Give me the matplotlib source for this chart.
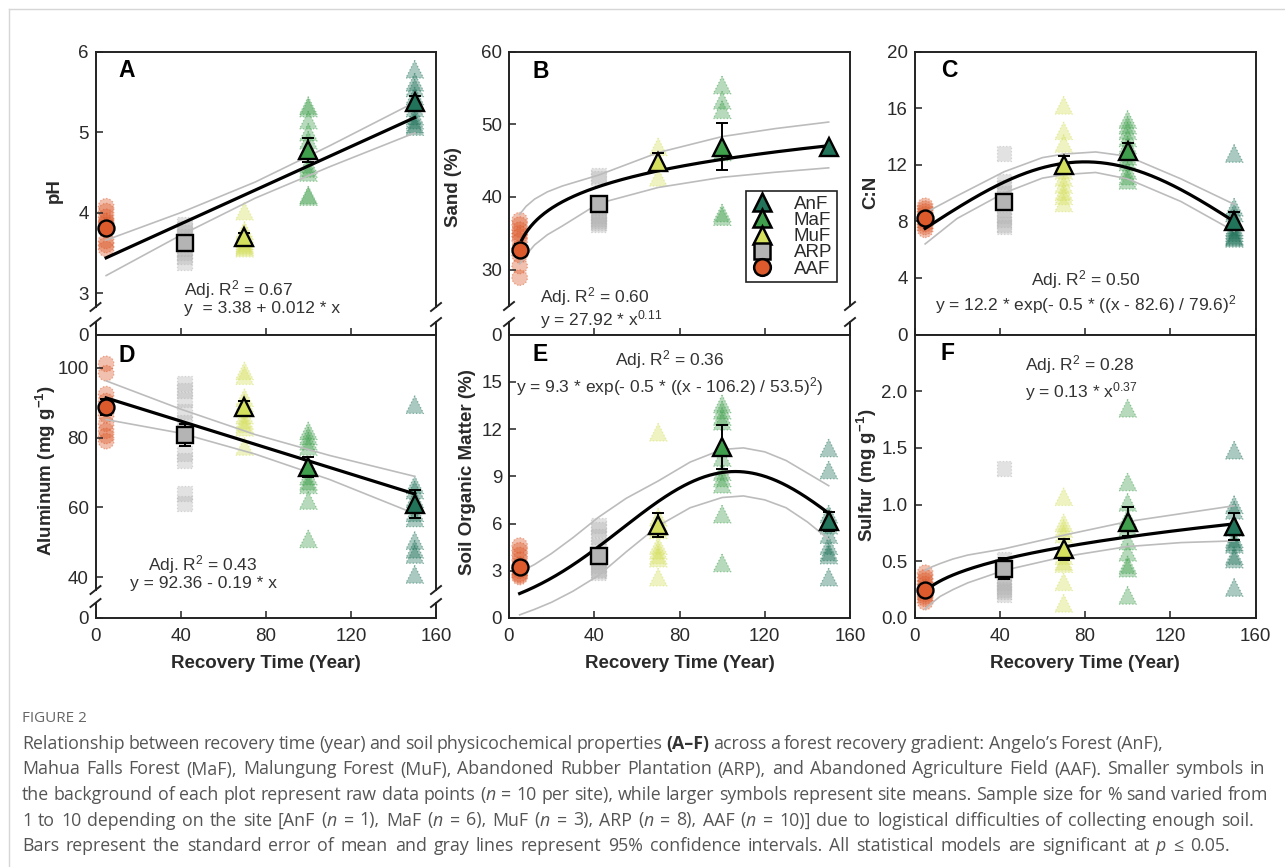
import numpy as np
import matplotlib
matplotlib.use('Agg')
import matplotlib.pyplot as plt
from matplotlib.lines import Line2D
from matplotlib.colors import to_rgba

# ---------------- data ----------------
sites = ['AAF', 'ARP', 'MuF', 'MaF', 'AnF']
site_years = [5, 42, 70, 100, 150]
site_colors = ['#dc5a2c', '#b4b4b4', '#d5e05e', '#3f9f4c', '#21735a']
site_markers = ['o', 's', '^', '^', '^']
legend_order = ['AnF', 'MaF', 'MuF', 'ARP', 'AAF']
x_ticks = [0, 40, 80, 120, 160]

# A: pH
ph_raw = {'AAF': [4.08, 4.02, 3.95, 3.90, 3.88, 3.85, 3.80, 3.65, 3.60, 3.55],
          'ARP': [3.85, 3.80, 3.75, 3.70, 3.65, 3.60, 3.55, 3.50, 3.45, 3.38],
          'MuF': [4.02, 3.78, 3.74, 3.70, 3.68, 3.65, 3.62, 3.60, 3.58, 3.56],
          'MaF': [5.33, 5.30, 5.15, 5.00, 4.90, 4.60, 4.55, 4.50, 4.22, 4.20],
          'AnF': [5.78, 5.62, 5.55, 5.45, 5.38, 5.30, 5.20, 5.15, 5.10, 5.07]}
ph_mean = [3.81, 3.63, 3.70, 4.78, 5.37]
ph_se = [0.06, 0.06, 0.05, 0.15, 0.08]
ph_params = [3.38, 0.012]
ph_ci_x = [5, 40, 75, 110, 150]
ph_ci_hi = [3.66, 4.00, 4.38, 4.83, 5.37]
ph_ci_lo = [3.22, 3.72, 4.18, 4.57, 4.99]

# B: Sand
sand_raw = {'AAF': [36.8, 36.2, 35.5, 35.0, 34.6, 34.0, 33.0, 32.0, 30.5, 28.9],
            'ARP': [43.0, 42.6, 38.5, 37.5, 37.0, 36.8, 36.5, 36.2],
            'MuF': [46.9, 44.8, 42.7],
            'MaF': [55.4, 53.3, 52.0, 46.2, 37.8, 37.3],
            'AnF': [46.9]}
sand_mean = [32.7, 39.0, 44.8, 46.9, 46.9]
sand_se = [0.8, 1.0, 1.2, 3.2, 0.0]
sand_params = [28.5, 0.10]
sand_ci_x = [5, 8, 12, 18, 25, 42, 70, 100, 125, 150]
sand_ci_hi = [37.6, 38.7, 39.7, 40.7, 41.5, 43.0, 46.1, 48.3, 49.4, 50.3]
sand_ci_lo = [30.8, 32.0, 33.4, 34.8, 36.0, 39.1, 41.3, 42.7, 43.4, 44.0]

# C: C:N
cn_raw = {'AAF': [9.1, 8.9, 8.7, 8.5, 8.3, 8.2, 8.0, 7.8, 7.6, 7.4],
          'ARP': [12.8, 10.8, 10.4, 10.0, 9.6, 8.8, 8.4, 8.1, 7.8, 7.6],
          'MuF': [16.2, 14.4, 13.5, 12.2, 11.6, 11.1, 10.6, 10.1, 9.8, 9.3],
          'MaF': [15.2, 14.8, 14.4, 13.9, 13.4, 12.6, 12.2, 11.6, 11.2, 10.9],
          'AnF': [12.8, 9.0, 8.6, 8.0, 7.6, 7.4, 7.2, 7.0, 6.9, 6.8]}
cn_mean = [8.2, 9.35, 12.0, 13.0, 8.05]
cn_se = [0.2, 0.5, 0.6, 0.5, 0.6]
cn_params = [12.2, 80.0, 76.0]
cn_ci_x = [5, 20, 42, 60, 70, 85, 100, 125, 150]
cn_ci_hi = [8.6, 9.8, 11.5, 12.5, 12.75, 12.9, 12.6, 11.0, 9.2]
cn_ci_lo = [6.4, 8.2, 10.0, 11.05, 11.3, 11.45, 11.0, 9.4, 7.3]

# D: Aluminum
al_raw = {'AAF': [101.2, 98.5, 92.5, 90.5, 88.5, 86.5, 84.0, 82.0, 80.5, 79.0],
          'ARP': [95.5, 93.5, 91.0, 87.5, 84.5, 82.0, 75.5, 73.5, 64.0, 61.0],
          'MuF': [99.2, 97.8, 91.5, 90.0, 88.5, 86.5, 85.0, 84.0, 83.0, 77.5],
          'MaF': [82.0, 80.5, 79.0, 77.5, 72.0, 69.0, 67.5, 66.5, 62.0, 51.0],
          'AnF': [89.5, 66.5, 65.0, 62.5, 58.5, 57.0, 50.5, 48.0, 46.5, 40.8]}
al_mean = [88.8, 80.8, 88.8, 71.6, 61.0]
al_se = [2.2, 3.2, 1.8, 2.8, 4.0]
al_params = [92.36, -0.19]
al_ci_x = [5, 40, 75, 110, 150]
al_ci_hi = [96.3, 88.2, 80.9, 74.9, 68.9]
al_ci_lo = [85.2, 81.3, 75.3, 68.0, 58.2]

# E: Soil organic matter
som_raw = {'AAF': [4.6, 4.3, 4.0, 3.7, 3.4, 3.2, 3.0, 2.8, 2.7, 2.6],
           'ARP': [5.9, 5.6, 5.2, 4.6, 4.0, 3.6, 3.3, 3.1, 3.0, 2.9],
           'MuF': [11.8, 6.4, 6.1, 5.8, 5.6, 4.6, 4.3, 4.0, 3.8, 2.6],
           'MaF': [13.6, 13.2, 12.8, 12.5, 10.2, 9.3, 8.9, 8.5, 6.6, 3.5],
           'AnF': [10.8, 9.4, 6.6, 6.2, 5.9, 5.3, 4.6, 4.2, 4.0, 2.6]}
som_mean = [3.25, 3.95, 5.9, 10.85, 6.15]
som_se = [0.2, 0.35, 0.75, 1.4, 0.6]
som_params = [9.3, 106.2, 53.5]
som_ci_x = [5, 12, 20, 30, 42, 55, 70, 85, 100, 110, 120, 130, 140, 150]
som_ci_hi = [2.9, 3.4, 4.1, 5.1, 6.4, 7.6, 8.7, 9.9, 10.7, 10.8, 10.55, 10.0, 9.2, 8.4]
som_ci_lo = [0.2, 0.55, 1.0, 1.7, 2.7, 4.2, 5.85, 7.0, 7.65, 7.75, 7.5, 7.0, 6.1, 5.0]

# F: Sulfur
s_raw = {'AAF': [0.40, 0.36, 0.33, 0.30, 0.27, 0.24, 0.21, 0.19, 0.17, 0.14],
         'ARP': [1.32, 0.52, 0.47, 0.40, 0.35, 0.31, 0.28, 0.25, 0.23, 0.21],
         'MuF': [1.07, 0.84, 0.79, 0.74, 0.62, 0.55, 0.50, 0.48, 0.32, 0.13],
         'MaF': [1.85, 1.20, 1.02, 0.88, 0.80, 0.68, 0.58, 0.47, 0.44, 0.20],
         'AnF': [1.48, 1.00, 0.95, 0.80, 0.70, 0.67, 0.65, 0.55, 0.52, 0.27]}
s_mean = [0.245, 0.435, 0.605, 0.85, 0.81]
s_se = [0.03, 0.09, 0.09, 0.125, 0.12]
s_params = [0.13, 0.37]
s_ci_x = [5, 8, 12, 18, 25, 42, 70, 100, 125, 150]
s_ci_hi = [0.42, 0.45, 0.48, 0.52, 0.555, 0.61, 0.73, 0.85, 0.92, 0.99]
s_ci_lo = [0.08, 0.13, 0.19, 0.25, 0.31, 0.42, 0.54, 0.63, 0.665, 0.68]


def linear(x, a, b):
    return a + b * x


def power(x, a, b):
    return a * x ** b


def gauss(x, a, c, s):
    return a * np.exp(-0.5 * ((x - c) / s) ** 2)


# ---------------- figure ----------------
W, H = 1285, 867
plt.rcParams['font.family'] = ['Liberation Sans', 'DejaVu Sans']
plt.rcParams['mathtext.default'] = 'regular'

fig = plt.figure(figsize=(W / 100, H / 100), dpi=100)
SPINE = '#222222'
TXT = '#2a2a2a'


def P(x, y):
    return x / W, 1 - y / H


def add_ax(l, t, r, b):
    return fig.add_axes([l / W, 1 - b / H, (r - l) / W, (b - t) / H])


def style(ax, xlabels=False):
    ax.set_xlim(0, 160)
    ax.set_xticks(x_ticks)
    ax.tick_params(direction='in', length=5, width=1.1, colors=SPINE,
                   labelcolor=TXT, labelsize=13.5, pad=5)
    ax.tick_params(axis='x', pad=7)
    ax.tick_params(top=False, right=False)
    if not xlabels:
        ax.tick_params(labelbottom=False)
    for sp in ax.spines.values():
        sp.set_linewidth(1.4)
        sp.set_color(SPINE)


marker_ms = {'o': 11.5, 's': 11.0, '^': 13.0}


def draw(ax, raw, means, ses, model, params, ci_x, ci_hi, ci_lo, x0=5, x1=150):
    for i, s in enumerate(sites):
        vals = raw[s]
        m = site_markers[i]
        ax.scatter([site_years[i]] * len(vals), vals, s=(marker_ms[m] - 0.3) ** 2,
                   marker=m, facecolor=to_rgba(site_colors[i], 0.38),
                   edgecolor=to_rgba(site_colors[i], 0.5), linewidths=0.9,
                   linestyle=':', zorder=1)
    ax.plot(ci_x, ci_hi, color='#bcbcbc', lw=1.2, zorder=2)
    ax.plot(ci_x, ci_lo, color='#bcbcbc', lw=1.2, zorder=2)
    xx = np.linspace(x0, x1, 300)
    ax.plot(xx, model(xx, *params), color='black', lw=2.3, zorder=3)
    for i, s in enumerate(sites):
        if ses[i] > 0:
            ax.errorbar(site_years[i], means[i], yerr=ses[i], fmt='none', ecolor='black',
                        elinewidth=1.4, capsize=4.5, capthick=1.4, zorder=4)
        m = site_markers[i]
        ax.plot(site_years[i], means[i], marker=m, ms=marker_ms[m], mfc=site_colors[i],
                mec='black', mew=1.7, ls='none', zorder=5)


def break_marks(ax, where):
    bb = ax.get_position()
    y = bb.y0 if where == 'bottom' else bb.y1
    for x in (bb.x0, bb.x1):
        fig.add_artist(Line2D([x - 5 / W, x + 5 / W], [y - 4 / H, y + 4 / H],
                              transform=fig.transFigure, color=SPINE, lw=1.4))


cols = [(95.5, 436), (509, 850), (914.5, 1255.5)]
TOP, MID, BOT = 51.5, 334.5, 618

# ---- A ----
axA = add_ax(cols[0][0], TOP, cols[0][1], 307)
axAs = add_ax(cols[0][0], 322, cols[0][1], MID)
style(axA); style(axAs)
axA.set_ylim(2.83, 6.0)
axA.set_yticks([3, 4, 5, 6])
axA.spines['bottom'].set_visible(False)
axA.tick_params(bottom=False)
draw(axA, ph_raw, ph_mean, ph_se, linear, ph_params, ph_ci_x, ph_ci_hi, ph_ci_lo)
axAs.set_ylim(0, 1); axAs.set_yticks([0]); axAs.spines['top'].set_visible(False)
break_marks(axA, 'bottom'); break_marks(axAs, 'top')

# ---- B ----
axB = add_ax(cols[1][0], TOP, cols[1][1], 306)
axBs = add_ax(cols[1][0], 322, cols[1][1], MID)
style(axB); style(axBs)
axB.set_ylim(25, 60)
axB.set_yticks([30, 40, 50, 60])
axB.spines['bottom'].set_visible(False)
axB.tick_params(bottom=False)
draw(axB, sand_raw, sand_mean, sand_se, power, sand_params, sand_ci_x, sand_ci_hi, sand_ci_lo, x0=6)
axBs.set_ylim(0, 1); axBs.set_yticks([0]); axBs.spines['top'].set_visible(False)
break_marks(axB, 'bottom'); break_marks(axBs, 'top')

# ---- C ----
axC = add_ax(cols[2][0], TOP, cols[2][1], MID)
style(axC)
axC.set_ylim(0, 20)
axC.set_yticks([0, 4, 8, 12, 16, 20])
draw(axC, cn_raw, cn_mean, cn_se, gauss, cn_params, cn_ci_x, cn_ci_hi, cn_ci_lo)

# ---- D ----
axD = add_ax(cols[0][0], MID, cols[0][1], 590)
axDs = add_ax(cols[0][0], 603, cols[0][1], BOT)
style(axD); style(axDs, xlabels=True)
axD.set_ylim(36.3, 109.6)
axD.set_yticks([40, 60, 80, 100])
axD.spines['bottom'].set_visible(False)
axD.tick_params(bottom=False)
draw(axD, al_raw, al_mean, al_se, linear, al_params, al_ci_x, al_ci_hi, al_ci_lo)
axDs.set_ylim(0, 1); axDs.set_yticks([0]); axDs.spines['top'].set_visible(False)
break_marks(axD, 'bottom'); break_marks(axDs, 'top')

# ---- E ----
axE = add_ax(cols[1][0], MID, cols[1][1], BOT)
style(axE, xlabels=True)
axE.set_ylim(0, 18)
axE.set_yticks([0, 3, 6, 9, 12, 15])
draw(axE, som_raw, som_mean, som_se, gauss, som_params, som_ci_x, som_ci_hi, som_ci_lo)

# ---- F ----
axF = add_ax(cols[2][0], MID, cols[2][1], BOT)
style(axF, xlabels=True)
axF.set_ylim(0, 2.5)
axF.set_yticks([0.0, 0.5, 1.0, 1.5, 2.0])
axF.set_yticklabels(['0.0', '0.5', '1.0', '1.5', '2.0'])
draw(axF, s_raw, s_mean, s_se, power, s_params, s_ci_x, s_ci_hi, s_ci_lo)

# ---- legend in B ----
handles = []
for name in legend_order:
    i = sites.index(name)
    m = site_markers[i]
    handles.append(Line2D([], [], marker=m, ms=marker_ms[m] + 0.5, mfc=site_colors[i], mec='black',
                          mew=1.8, ls='none'))
leg = fig.legend(handles, legend_order, loc='upper right', bbox_to_anchor=P(837, 191),
                 fontsize=13.5, frameon=True, fancybox=False, edgecolor='#222222',
                 framealpha=1, labelspacing=-0.05, handletextpad=1.1, handlelength=1.2,
                 borderpad=0.25, borderaxespad=0)
leg.get_frame().set_linewidth(1.2)
for t in leg.get_texts():
    t.set_color(TXT)

# ---- panel letters ----
for lab, (x, y) in zip('ABCDEF', [(118, 77), (533, 78), (941, 77), (118, 362), (533, 361), (941, 360)]):
    fig.text(*P(x, y), lab, fontsize=16.5, fontweight='bold', color='black', ha='left', va='baseline')

# ---- annotations ----
ann = dict(fontsize=12.5, color='#333333', va='baseline')
fig.text(*P(184, 295), 'Adj. R$^2$ = 0.67', ha='left', **ann)
fig.text(*P(184, 313), 'y  = 3.38 + 0.012 * x', ha='left', **ann)
fig.text(*P(540, 302), 'Adj. R$^2$ = 0.60', ha='left', **ann)
fig.text(*P(540, 325), 'y = 27.92 * x$^{0.11}$', ha='left', **ann)
fig.text(*P(1086, 285), 'Adj. R$^2$ = 0.50', ha='center', **ann)
fig.text(*P(1086, 310), 'y = 12.2 * exp(- 0.5 * ((x - 82.6) / 79.6)$^2$', ha='center', **ann)
fig.text(*P(203, 570), 'Adj. R$^2$ = 0.43', ha='center', **ann)
fig.text(*P(203, 588), 'y = 92.36 - 0.19 * x', ha='center', **ann)
fig.text(*P(670, 365), 'Adj. R$^2$ = 0.36', ha='center', **ann)
fig.text(*P(670, 392), 'y = 9.3 * exp(- 0.5 * ((x - 106.2) / 53.5)$^2$)', ha='center', **ann)
fig.text(*P(1025, 370), 'Adj. R$^2$ = 0.28', ha='left', **ann)
fig.text(*P(1025, 397), 'y = 0.13 * x$^{0.37}$', ha='left', **ann)

# ---- axis labels ----
lab = dict(fontsize=13.5, fontweight='bold', color=TXT, rotation=90, ha='center', va='center')
fig.text(*P(54, 191), 'pH', **lab)
fig.text(*P(453, 187), 'Sand (%)', **lab)
fig.text(*P(871, 192), 'C:N', **lab)
fig.text(*P(46, 471), 'Aluminum (mg g$^{-1}$)', **lab)
fig.text(*P(467, 472), 'Soil Organic Matter (%)', **lab)
fig.text(*P(867, 475), 'Sulfur (mg g$^{-1}$)', **lab)
for (l, r) in cols:
    fig.text(*P((l + r) / 2, 664), 'Recovery Time (Year)', fontsize=13.5, fontweight='bold',
             color=TXT, ha='center', va='center')

# ---- page frame ----
fig.add_artist(Line2D([9 / W, 1], [1 - 9 / H, 1 - 9 / H], transform=fig.transFigure, color='#d6d6d6', lw=1))
fig.add_artist(Line2D([9 / W, 9 / W], [0, 1 - 9 / H], transform=fig.transFigure, color='#d6d6d6', lw=1))

# ---- caption (rich text built from word pieces) ----
CAPFONT = ['Open Sans', 'Noto Sans', 'DejaVu Sans']
CAPSIZE = 12.8
renderer = fig.canvas.get_renderer()


def cap_kw(kind):
    kw = dict(fontsize=CAPSIZE, color='#555555', ha='left', va='center', family=CAPFONT)
    if kind == 'b':
        kw.update(fontweight='bold', color='#333333')
    elif kind == 'i':
        kw.update(fontstyle='italic')
    return kw


def measure(txt, kind):
    t = fig.text(0, 0, txt, **cap_kw(kind))
    w = t.get_window_extent(renderer).width
    t.remove()
    return w + (1.0 if kind == 'i' else 0.0)


SPACE_W = measure('a a', '') - measure('aa', '')


def rich_line(x_px, y_px, segments, right_px):
    words, cur = [], []
    for txt, kind in segments:
        parts = txt.split(' ')
        for j, part in enumerate(parts):
            if j > 0 and cur:
                words.append(cur)
                cur = []
            if part:
                cur.append((part, kind))
    if cur:
        words.append(cur)
    widths = [[measure(p, k) for p, k in w] for w in words]
    natural = sum(sum(w) for w in widths) + SPACE_W * (len(words) - 1)
    gap = SPACE_W + (right_px - x_px - natural) / max(len(words) - 1, 1)
    gap = min(max(gap, 0.8 * SPACE_W), 1.45 * SPACE_W)
    x = x_px
    for w, ws in zip(words, widths):
        for (p, k), pw in zip(w, ws):
            fig.text(*P(x, y_px), p, **cap_kw(k))
            x += pw
        x += gap


fig.text(*P(22, 719), 'FIGURE 2', fontsize=11, color='#666666', ha='left', va='center', family=CAPFONT)
cap_lines = [
    [('Relationship between recovery time (year) and soil physicochemical properties', ''),
     (' (A\u2013F)', 'b'),
     (' across a forest recovery gradient: Angelo\u2019s Forest (AnF),', '')],
    [('Mahua Falls Forest (MaF), Malungung Forest (MuF), Abandoned Rubber Plantation (ARP), and Abandoned Agriculture Field (AAF). Smaller symbols in', '')],
    [('the background of each plot represent raw data points (', ''), ('n', 'i'),
     (' = 10 per site), while larger symbols represent site means. Sample size for % sand varied from', '')],
    [('1 to 10 depending on the site [AnF (', ''), ('n', 'i'), (' = 1), MaF (', ''), ('n', 'i'),
     (' = 6), MuF (', ''), ('n', 'i'), (' = 3), ARP (', ''), ('n', 'i'), (' = 8), AAF (', ''),
     ('n', 'i'), (' = 10)] due to logistical difficulties of collecting enough soil.', '')],
    [('Bars represent the standard error of mean and gray lines represent 95% confidence intervals. All statistical models are significant at', ''),
     (' p', 'i'), (' \u2264 0.05.', '')],
]
cap_right = [1106, 1265, 1268, 1254, 1247]
for k, segs in enumerate(cap_lines):
    rich_line(22, 744 + 25.5 * k, segs, cap_right[k])

fig.savefig('out.png', dpi=100)
